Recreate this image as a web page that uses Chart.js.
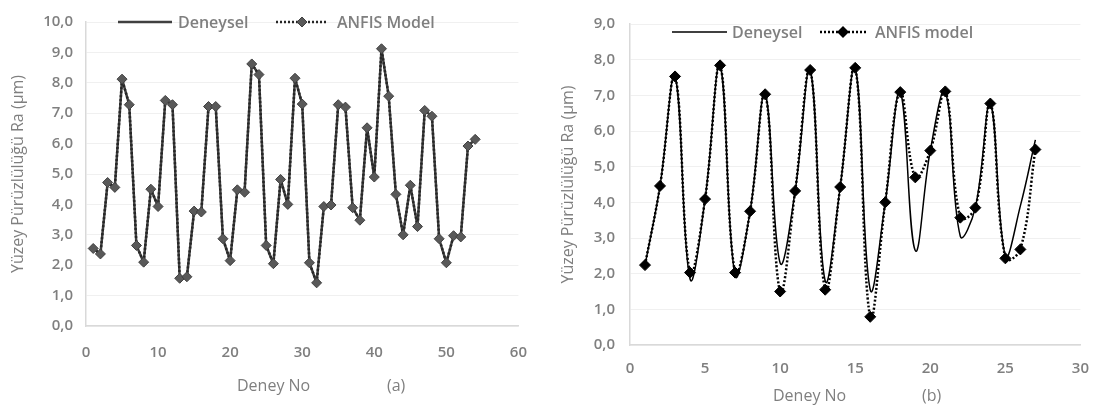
<!DOCTYPE html>
<html>
<head>
<meta charset="utf-8">
<script src="https://cdn.jsdelivr.net/npm/chart.js@4.4.1/dist/chart.umd.min.js"></script>
<style>
    body { margin: 0; background: #fff; width: 1104px; height: 412px; overflow: hidden; position: relative; font-family: "Open Sans", sans-serif; }
    .panel { position: absolute; top: 0; height: 412px; }
    .txt { position: absolute; color: #7f7f7f; font-size: 16px; line-height: 20px; white-space: nowrap; }
    .leg { font-weight: 600; }
    .swatch { position: absolute; }
</style>
</head>
<body>

<div class="panel" style="left:0;width:545px;"><canvas id="chartA" width="545" height="412"></canvas></div>
<div class="panel" style="left:545px;width:559px;"><canvas id="chartB" width="559" height="412"></canvas></div>

<!-- legend (a) -->
<svg class="swatch" style="left:116px;top:14px;" width="60" height="16"><line x1="2" y1="8" x2="56" y2="8" stroke="#404040" stroke-width="2.5"/></svg>
<div class="txt leg" style="left:178px;top:12px;">Deneysel</div>
<svg class="swatch" style="left:274px;top:14px;" width="60" height="16"><line x1="2" y1="8" x2="54" y2="8" stroke="#262626" stroke-width="2.5" stroke-dasharray="2,2"/><path d="M28 3 L33 8 L28 13 L23 8 Z" fill="#595959" stroke="#404040"/></svg>
<div class="txt leg" style="left:337px;top:12px;">ANFIS Model</div>

<!-- legend (b) -->
<svg class="swatch" style="left:670px;top:24px;" width="60" height="16"><line x1="2" y1="8" x2="57" y2="8" stroke="#000" stroke-width="1.5"/></svg>
<div class="txt leg" style="left:732px;top:22px;">Deneysel</div>
<svg class="swatch" style="left:818px;top:24px;" width="54" height="16"><line x1="2" y1="8" x2="50" y2="8" stroke="#000" stroke-width="2.5" stroke-dasharray="2,2"/><path d="M25 2 L31 8 L25 14 L19 8 Z" fill="#000"/></svg>
<div class="txt leg" style="left:875px;top:22px;">ANFIS model</div>

<!-- x titles -->
<div class="txt" style="left:237px;top:375px;">Deney No</div>
<div class="txt" style="left:387px;top:375px;">(a)</div>
<div class="txt" style="left:773px;top:385px;">Deney No</div>
<div class="txt" style="left:922px;top:385px;">(b)</div>

<script>
// DATA (a)
const deneyNoA = [1, 2, 3, 4, 5, 6, 7, 8, 9, 10, 11, 12, 13, 14, 15, 16, 17, 18, 19, 20, 21, 22, 23, 24, 25, 26, 27,
    28, 29, 30, 31, 32, 33, 34, 35, 36, 37, 38, 39, 40, 41, 42, 43, 44, 45, 46, 47, 48, 49, 50, 51, 52, 53, 54];
const deneyselA = [2.55, 2.37, 4.72, 4.56, 8.12, 7.28, 2.65, 2.10, 4.50, 3.93, 7.42, 7.28, 1.57, 1.62, 3.78, 3.75, 7.22, 7.22,
    2.87, 2.15, 4.48, 4.40, 8.62, 8.27, 2.65, 2.05, 4.82, 4.00, 8.15, 7.30, 2.08, 1.42, 3.93, 3.98, 7.28, 7.20,
    3.89, 3.48, 6.52, 4.90, 9.12, 7.56, 4.33, 3.00, 4.63, 3.27, 7.09, 6.90, 2.87, 2.08, 2.97, 2.93, 5.92, 6.14];
const anfisA = [2.55, 2.37, 4.72, 4.56, 8.12, 7.28, 2.65, 2.10, 4.50, 3.93, 7.42, 7.28, 1.57, 1.62, 3.78, 3.75, 7.22, 7.22,
    2.87, 2.15, 4.48, 4.40, 8.62, 8.27, 2.65, 2.05, 4.82, 4.00, 8.15, 7.30, 2.08, 1.42, 3.93, 3.98, 7.28, 7.20,
    3.89, 3.48, 6.52, 4.90, 9.12, 7.56, 4.33, 3.00, 4.63, 3.27, 7.09, 6.90, 2.87, 2.08, 2.97, 2.93, 5.92, 6.14];
const xTicksA = [0, 10, 20, 30, 40, 50, 60];
const yTicksA = [0, 1, 2, 3, 4, 5, 6, 7, 8, 9, 10];

// DATA (b)
const deneyNoB = [1, 2, 3, 4, 5, 6, 7, 8, 9, 10, 11, 12, 13, 14, 15, 16, 17, 18, 19, 20, 21, 22, 23, 24, 25, 26, 27];
const deneyselB = [2.24, 4.46, 7.53, 1.85, 4.09, 7.84, 1.95, 3.75, 7.03, 2.30, 4.32, 7.71, 1.80, 4.43, 7.77, 1.55, 4.00, 7.09,
    2.65, 5.45, 7.11, 3.05, 3.85, 6.77, 2.50, 3.90, 5.75];
const anfisB = [2.24, 4.46, 7.53, 2.03, 4.09, 7.84, 2.03, 3.75, 7.03, 1.50, 4.32, 7.71, 1.55, 4.43, 7.77, 0.79, 4.00, 7.09,
    4.70, 5.45, 7.11, 3.57, 3.85, 6.77, 2.43, 2.68, 5.48];
const xTicksB = [0, 5, 10, 15, 20, 25, 30];
const yTicksB = [0, 1, 2, 3, 4, 5, 6, 7, 8, 9];

const yTitle = "Yüzey Pürüzlülüğü Ra (µm)";
const FONT = "'Open Sans', sans-serif";
const GRAY = "#7f7f7f";

function pts(xs, ys) {
    return xs.map((x, i) => ({ x: x, y: ys[i] }));
}

function fmt(v) {
    return v.toFixed(1).replace(".", ",");
}

function buildChart(id, cfg) {
    return new Chart(document.getElementById(id), {
        type: "line",
        data: {
            datasets: [
                {
                    label: "Deneysel",
                    data: pts(cfg.xs, cfg.deneysel),
                    borderColor: cfg.solidColor,
                    borderWidth: cfg.solidWidth,
                    borderJoinStyle: "round",
                    pointRadius: 0,
                    tension: cfg.tension,
                    order: 2
                },
                {
                    label: cfg.anfisLabel,
                    data: pts(cfg.xs, cfg.anfis),
                    borderColor: cfg.dotColor,
                    borderWidth: 2.5,
                    borderDash: [2, 2],
                    borderJoinStyle: "round",
                    pointStyle: "rectRot",
                    pointRadius: cfg.markerR,
                    pointBackgroundColor: cfg.markerFill,
                    pointBorderColor: cfg.markerBorder,
                    pointBorderWidth: 1,
                    tension: cfg.tension,
                    order: 1
                }
            ]
        },
        options: {
            responsive: false,
            animation: false,
            layout: { padding: cfg.padding },
            plugins: { legend: { display: false }, tooltip: { enabled: false } },
            scales: {
                x: {
                    type: "linear",
                    min: cfg.xTicks[0],
                    max: cfg.xTicks[cfg.xTicks.length - 1],
                    afterBuildTicks: s => { s.ticks = cfg.xTicks.map(v => ({ value: v })); },
                    grid: { display: false, drawTicks: false },
                    border: { color: "#d9d9d9", width: 1.5 },
                    ticks: { color: GRAY, font: { family: FONT, size: 15, weight: "600" }, padding: cfg.xTickPad, maxRotation: 0 },
                    afterFit: s => { s.height = cfg.xHeight; }
                },
                y: {
                    min: cfg.yTicks[0],
                    max: cfg.yTicks[cfg.yTicks.length - 1],
                    afterBuildTicks: s => { s.ticks = cfg.yTicks.map(v => ({ value: v })); },
                    grid: { color: "#f0f0f0", drawTicks: false },
                    border: { color: "#d9d9d9", width: 1.5 },
                    ticks: { color: GRAY, font: { family: FONT, size: 15, weight: "600" }, padding: cfg.yTickPad, callback: v => fmt(v) },
                    title: { display: true, text: yTitle, color: GRAY, font: { family: FONT, size: 16 }, padding: { top: cfg.yTitlePad, bottom: 0 } },
                    afterFit: s => { s.width = cfg.yWidth; }
                }
            }
        }
    });
}

buildChart("chartA", {
    xs: deneyNoA, deneysel: deneyselA, anfis: anfisA, anfisLabel: "ANFIS Model",
    xTicks: xTicksA, yTicks: yTicksA,
    solidColor: "#404040", solidWidth: 2.5, dotColor: "#262626",
    markerR: 5, markerFill: "#595959", markerBorder: "#404040",
    tension: 0,
    padding: { top: 12, right: 23, left: 0, bottom: 0 },
    xHeight: 86, xTickPad: 18, yWidth: 86, yTickPad: 13, yTitlePad: 9
});

buildChart("chartB", {
    xs: deneyNoB, deneysel: deneyselB, anfis: anfisB, anfisLabel: "ANFIS model",
    xTicks: xTicksB, yTicks: yTicksB,
    solidColor: "#000000", solidWidth: 1.5, dotColor: "#000000",
    markerR: 5.5, markerFill: "#000000", markerBorder: "#000000",
    tension: 0.4,
    padding: { top: 15, right: 19, left: 0, bottom: 0 },
    xHeight: 67, xTickPad: 15, yWidth: 85, yTickPad: 15, yTitlePad: 14
});
</script>
</body>
</html>
